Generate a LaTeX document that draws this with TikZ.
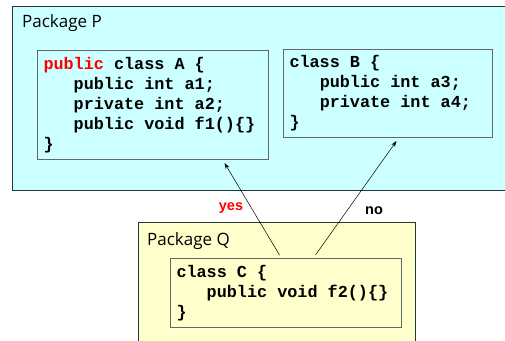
\documentclass[tikz,border=0pt]{standalone}
\usepackage{fontspec}
\setmainfont{Open Sans}
\setmonofont{Liberation Mono}
\newfontfamily\labelfont{Liberation Sans}
\usepackage{xcolor}
\usepackage{tikz}
\usetikzlibrary{arrows.meta}

\definecolor{pkgcyan}{HTML}{CCFFFF}
\definecolor{pkgyellow}{HTML}{FFFFCC}
\definecolor{pkgline}{HTML}{203838}
\definecolor{kwred}{HTML}{FF0000}
\newcommand{\ind}{\hphantom{xxx}}
\newcommand{\wsp}{\hphantom{x}}

\begin{document}
\begin{tikzpicture}[x=1pt,y=-1pt,
        package/.style={draw=pkgline, line width=1.2pt, anchor=north west, inner sep=0pt},
        classbox/.style={draw=gray!80!black, line width=1pt, anchor=north west, align=left,
            inner xsep=6pt, inner ysep=0pt, font=\ttfamily\bfseries\fontsize{16.8}{20}\selectfont},
        pkglabel/.style={anchor=base west, inner sep=0pt, font=\fontsize{17}{20}\selectfont},
        answer/.style={anchor=base, inner sep=0pt, font=\labelfont\bfseries\fontsize{14.5}{17}\selectfont},
        link/.style={-{Stealth[length=6pt,width=4pt]}, line width=0.5pt}]
        \clip (0,0) rectangle (505,340);

        % package P
        \node[package, fill=pkgcyan, minimum width=500pt, minimum height=184pt] (pkgP) at (12,6) {};
        \node[pkglabel] (labelP) at (22,27) {Package P};
        \node[classbox, fill=pkgcyan, text width=219pt, minimum height=109pt] (classA) at (37,50)
            {\textcolor{kwred}{public}\wsp class\wsp A\wsp\{\\
             \ind public\wsp int\wsp a1;\\
             \ind private\wsp int\wsp a2;\\
             \ind public\wsp void\wsp f1()\{\}\\
             \}};
        \node[classbox, fill=pkgcyan, text width=197pt, minimum height=88pt] (classB) at (283,49)
            {class\wsp B\wsp\{\\
             \ind public\wsp int\wsp a3;\\
             \ind private\wsp int\wsp a4;\\
             \}};

        % package Q
        \node[package, fill=pkgyellow, minimum width=277pt, minimum height=140pt] (pkgQ) at (138,222) {};
        \node[pkglabel] (labelQ) at (147,245) {Package Q};
        \node[classbox, fill=pkgyellow, text width=219pt, minimum height=69pt] (classC) at (170,258)
            {class\wsp C\wsp\{\\
             \ind public\wsp void\wsp f2()\{\}\\
             \}};

        % access
        \draw[link] ([xshift=-6.5pt,yshift=3pt]classC.north) -- ([xshift=71.5pt,yshift=-3pt]classA.south);
        \draw[link] ([xshift=29.5pt,yshift=3pt]classC.north) -- ([xshift=8.5pt,yshift=-3pt]classB.south);
        \node[answer, text=kwred] (yes) at (231,210.5) {yes};
        \node[answer] (no) at (374,214) {no};
    \end{tikzpicture}
\end{document}
